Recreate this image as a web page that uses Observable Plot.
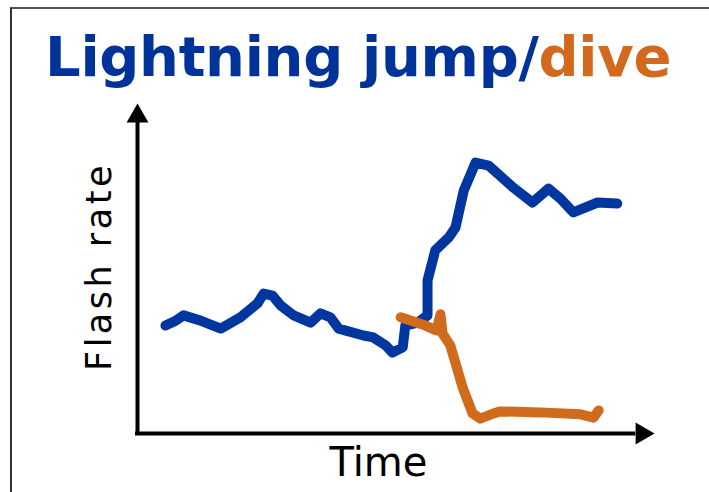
<!DOCTYPE html>
<html><head><meta charset="utf-8">
<script src="https://cdn.jsdelivr.net/npm/d3@7"></script>
<script src="https://cdn.jsdelivr.net/npm/@observablehq/plot@0.6"></script>
<style>
html,body{margin:0;padding:0;background:#fff;overflow:hidden;width:709px;height:492px;}
#frame{position:absolute;left:10px;top:7px;width:800px;height:600px;border-top:2px solid #555;border-left:2px solid #333;}
#title{position:absolute;left:45px;top:29px;font-family:"DejaVu Sans";font-weight:bold;font-size:56px;line-height:56px;white-space:nowrap;color:#003399;letter-spacing:-0.3px;}
#title .dive{color:#D2691E;}
#chart{position:absolute;left:0;top:0;}
</style></head><body>
<div id="frame"></div>
<div id="title">Lightning jump/<span class="dive">dive</span></div>
<div id="chart"></div>
<script>
// Lightning jump (blue) series: time (arbitrary units) and flash rate (arbitrary units)
const jumpTime = [5.4, 7.4, 8.9, 12.2, 16.1, 19.9, 23.2, 24.4, 26.1, 27.7, 30.2, 33.5, 35.4, 37.3, 38.9, 43.7, 45.6, 48.0, 49.3, 51.3, 51.8, 54.2, 56.1, 56.1, 57.6, 60.2, 61.5, 63.1, 65.4, 67.9, 72.7, 76.4, 79.5, 81.8, 84.3, 89.0, 92.8];
const jumpRate = [32.7, 34.2, 35.8, 34.2, 31.8, 35.2, 39.4, 42.4, 41.8, 38.8, 35.8, 33.6, 36.4, 35.2, 31.8, 29.7, 29.1, 26.7, 24.5, 26.1, 32.7, 33.6, 35.8, 46.4, 55.5, 59.4, 62.4, 73.6, 82.1, 81.2, 74.5, 70.0, 74.2, 71.2, 67.0, 70.0, 69.7];
// Lightning dive (orange) series
const diveTime = [50.9, 55.7, 57.8, 58.6, 59.0, 60.5, 62.9, 64.8, 66.3, 68.9, 70.2, 77.9, 85.7, 88.2, 89.2];
const diveRate = [35.2, 32.7, 31.2, 36.1, 30.3, 26.7, 13.9, 6.1, 4.5, 6.1, 6.7, 6.4, 5.8, 4.8, 7.0];
const xLabel = "Time";
const yLabel = "Flash rate";

const jump = jumpTime.map((t, i) => ({t, r: jumpRate[i]}));
const dive = diveTime.map((t, i) => ({t, r: diveRate[i]}));

const chart = Plot.plot({
  width: 709, height: 492,
  marginLeft: 137, marginRight: 55, marginTop: 103, marginBottom: 59,
  x: {domain: [0, 100], axis: null},
  y: {domain: [0, 100], axis: null},
  style: {background: "transparent", fontFamily: "DejaVu Sans", color: "black"},
  marks: [
    Plot.ruleX([0], {y1: 0, y2: 95, stroke: "black", strokeWidth: 4, strokeLinecap: "square"}),
    Plot.ruleY([0], {x1: 0, x2: 96, stroke: "black", strokeWidth: 4, strokeLinecap: "square"}),
    Plot.dot([{x: 0, y: 100}], {x: "x", y: "y", symbol: "triangle", r: 8.1, fill: "black", stroke: "none", dy: 12.6}),
    Plot.dot([{x: 100, y: 0}], {x: "x", y: "y", symbol: "triangle", r: 8.1, fill: "black", stroke: "none", rotate: 90, dx: -12.6}),
    Plot.line(jump, {x: "t", y: "r", stroke: "#0036A0", strokeWidth: 10, strokeLinejoin: "round", strokeLinecap: "round"}),
    Plot.line(dive, {x: "t", y: "r", stroke: "#D06B1C", strokeWidth: 10, strokeLinejoin: "round", strokeLinecap: "round"}),
    Plot.text([xLabel], {x: 46.6, y: 0, dy: 42, lineAnchor: "bottom", textAnchor: "middle", fontSize: 40, fill: "black"}),
    Plot.text([yLabel], {x: 0, y: 50.6, dx: -27, rotate: -90, lineAnchor: "bottom", textAnchor: "middle", fontSize: 35, fill: "black"})
  ]
});
document.getElementById("chart").appendChild(chart);
d3.select(chart).selectAll("text").filter(function() { return this.textContent === yLabel; }).style("letter-spacing", "3.5px");
</script></body></html>
